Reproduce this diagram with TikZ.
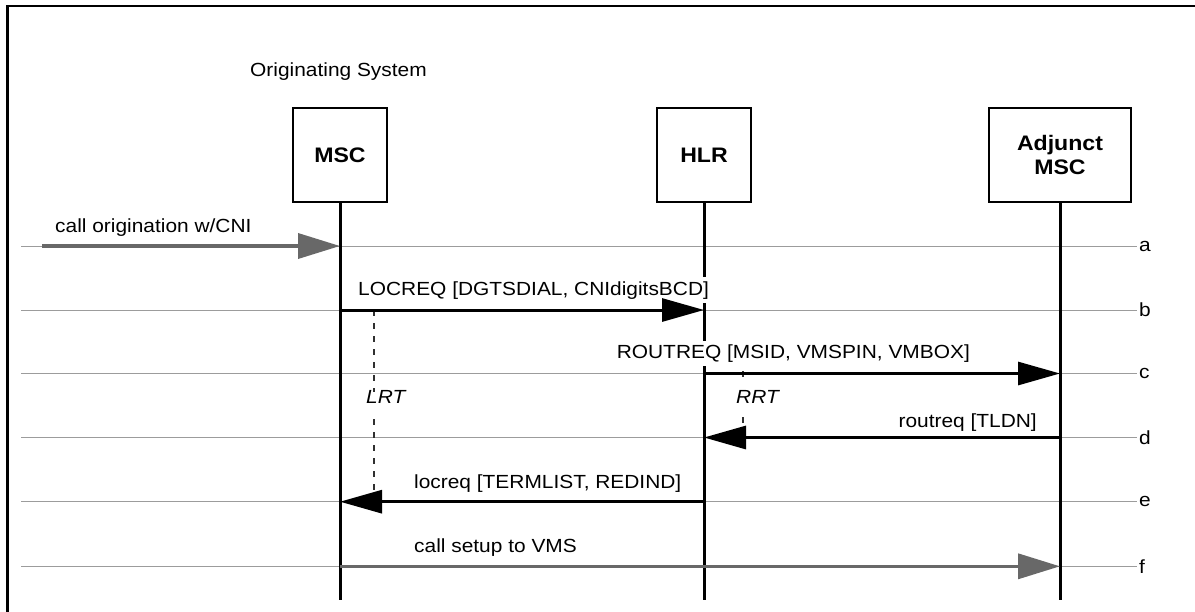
\documentclass[tikz,border=0pt]{standalone}
\usepackage{fontspec}
\setmainfont{Liberation Sans}[FakeStretch=1.1]
\usetikzlibrary{arrows.meta}
\definecolor{rowgray}{HTML}{9C9C9C}
\definecolor{msggray}{HTML}{686868}
\definecolor{timerdark}{HTML}{303030}
\begin{document}
\begin{tikzpicture}[x=1pt,y=-1pt,
  entity/.style={draw, line width=2.4pt, minimum height=94pt, inner sep=0pt,
    align=center, font=\fontsize{21}{24}\selectfont\bfseries},
  lifeline/.style={line width=3pt},
  rowline/.style={draw=rowgray, line width=1pt},
  rowtag/.style={anchor=west, inner sep=0pt, font=\fontsize{19}{23}\selectfont},
  msg/.style={line width=3pt, -{Triangle[length=42pt, width=23pt]}},
  grmsg/.style={draw=msggray, line width=3.6pt, -{Triangle[length=42pt, width=25pt]}},
  msglabel/.style={fill=white, inner xsep=0pt, inner ysep=4pt, font=\fontsize{19}{23}\selectfont},
  timer/.style={draw=timerdark, line width=1.8pt, dash pattern=on 6pt off 7pt},
  timerlabel/.style={inner sep=0pt, anchor=base west, font=\fontsize{19}{23}\selectfont\itshape}]

\useasboundingbox (0,0) rectangle (1195,611);
\clip (0,0) rectangle (1195,611);

% outer frame
\draw[line width=2.5pt] (7.3,640) -- (7.3,6.2) -- (1220,6.2);

% title
\node[anchor=base west, inner sep=0pt, font=\fontsize{19}{23}\selectfont] (title) at (250,76.5) {Originating System};

% entities
\node[entity, minimum width=94pt] (msc) at (340,155) {MSC};
\node[entity, minimum width=94pt] (hlr) at (704,155) {HLR};
\node[entity, minimum width=142pt] (adj) at (1060,155) {Adjunct\\MSC};

% row guide lines with their tags
\foreach \r/\y in {a/246, b/310, c/373.5, d/437.5, e/501.7, f/566.3} {
  \coordinate (row-\r-l) at (21,\y);
  \coordinate (row-\r-r) at (1137,\y);
  \draw[rowline] (row-\r-l) -- (row-\r-r);
  \node[rowtag] (tag-\r) at (1139,\y) {\r};
}

% lifelines
\coordinate (msc-end) at (340,600);
\coordinate (hlr-end) at (704,600);
\coordinate (adj-end) at (1060,600);
\draw[lifeline] (msc.south) -- (msc-end);
\draw[lifeline] (hlr.south) -- (hlr-end);
\draw[lifeline] (adj.south) -- (adj-end);

% message labels
\node[msglabel, anchor=base west] (lab-a) at (55,232) {call origination w/CNI};
\node[msglabel, anchor=base west] (lab-b) at (358,295) {LOCREQ [DGTSDIAL, CNIdigitsBCD]};
\node[msglabel, anchor=base east] (lab-c) at (970,358.5) {ROUTREQ [MSID, VMSPIN, VMBOX]};
\node[msglabel, anchor=base east] (lab-d) at (1037,427) {routreq [TLDN]};
\node[msglabel, anchor=base west] (lab-e) at (414,488.3) {locreq [TERMLIST, REDIND]};
\node[msglabel, anchor=base west] (lab-f) at (414,552.3) {call setup to VMS};

% timers
\coordinate (lrt-1) at (373.7,310);
\coordinate (lrt-2) at (373.7,392);
\coordinate (lrt-3) at (373.7,419);
\coordinate (lrt-4) at (373.7,501.7);
\draw[timer] (lrt-1) -- (lrt-2);
\draw[timer] (lrt-3) -- (lrt-4);
\node[timerlabel] (lrt) at (366,403.3) {LRT};

\coordinate (rrt-1) at (742.7,371);
\coordinate (rrt-2) at (742.7,378);
\coordinate (rrt-3) at (742.7,417);
\coordinate (rrt-4) at (742.7,437.5);
\draw[timer] (rrt-1) -- (rrt-2);
\draw[timer] (rrt-3) -- (rrt-4);
\node[timerlabel] (rrt) at (736,403.3) {RRT};

% messages
\coordinate (orig) at (42,246);
\draw[grmsg] (orig) -- (msc.south |- row-a-l);
\draw[msg] (msc.south |- row-b-l) -- (hlr.south |- row-b-l);
\draw[msg] (hlr.south |- row-c-l) -- (adj.south |- row-c-l);
\draw[msg] (adj.south |- row-d-l) -- (hlr.south |- row-d-l);
\draw[msg] (hlr.south |- row-e-l) -- (msc.south |- row-e-l);
\draw[grmsg] (msc.south |- row-f-l) -- (adj.south |- row-f-l);

\end{tikzpicture}
\end{document}
